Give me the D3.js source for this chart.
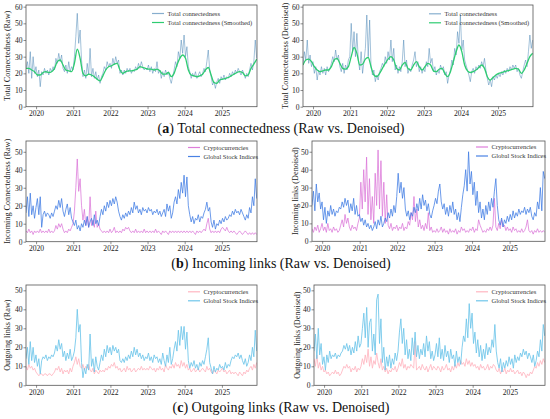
<!DOCTYPE html>
<html>
<head>
<meta charset="utf-8">
<script src="https://cdn.jsdelivr.net/npm/d3@7"></script>
<style>
  body { margin: 0; background: #fff; }
  svg { display: block; }
  .tick text { font-family: "Liberation Serif", serif; }
</style>
</head>
<body>
<svg width="550" height="419"></svg>
<script>
// Raw series are sampled every 14 days from 2019-09-24, smoothed every 28 days
var startDate = new Date(2019, 8, 24);
var rawStep = 14, smoothStep = 28;
var xStart = new Date(2019, 8, 24), xEnd = new Date(2025, 11, 12);
var yearTicks = [2020, 2021, 2022, 2023, 2024, 2025];

// (a) Total connectedness
var totalRaw = [23,27,20,33,17,30,20,
  24,18,22,12,21,19,23,20,22,19,23,21,24,22,29,26,32,27,31,23,21,25,20,27,21,24,
  22,30,42,56,38,46,28,18,22,17,26,19,35,18,23,17,21,16,19,14,18,20,24,22,27,24,
  26,23,29,25,30,26,28,20,22,19,22,20,23,21,23,20,22,21,24,22,26,23,27,24,22,23,
  22,25,21,24,20,23,21,27,20,22,17,21,18,22,19,21,17,14,18,22,27,24,33,29,40,32,
  43,30,36,24,21,17,20,18,21,17,19,21,18,20,23,21,27,34,22,18,13,15,11,15,17,14,18,
  16,19,16,18,17,20,18,21,19,22,20,23,21,19,22,20,17,20,18,22,26,22,27,40,29];
var totalRawSmooth = [23,23,22,21,19,19,20.5,21,20.5,21,23,27,28,25,22,21.5,21,26,34.5,29,
  20,18.5,19.5,19,18,16.5,15.5,18.5,22,24,24.5,25.5,26,22,20,21,21.5,21.5,22,22.5,
  24,23.5,23,22.5,22.5,22,22.5,21.5,19.5,19.5,20.5,18,20,25,29,31,29,22,19,18.5,
  18,18.5,19.5,22,23.5,19,14.5,14,16,16.5,17,17.5,18.5,19.5,20.5,21,20.5,18.5,19,23,
  25.5,28.5];
var totalDen = [25,33,28,40,26,31,24,
  27,20,24,16,22,19,24,20,23,19,24,21,23,26,30,27,34,28,31,24,21,26,20,25,22,28,
  30,50,33,45,30,44,28,22,33,20,27,35,55,30,52,24,19,22,15,19,16,21,23,26,24,30,
  26,33,28,40,27,35,22,25,20,24,21,27,40,24,28,20,23,21,25,28,33,24,27,21,24,20,
  23,21,27,24,35,26,29,21,24,19,22,20,25,22,24,19,21,14,19,22,28,25,35,31,45,38,
  55,34,40,28,25,22,19,15,21,23,20,24,22,25,23,27,24,29,22,17,13,16,12,18,16,19,17,
  20,18,21,19,22,20,23,21,24,22,25,23,25,21,23,19,17,21,25,28,24,33,43,35,40];
var totalDenSmooth = [25,28,28.5,27,24,22,21,21.5,22,22,24,28,29,26,23,22.5,24,30,35.5,32,
  25,25.5,28.5,29.5,24,19,18,20,23,26,28.5,30,28,23,22,25,26.5,23,22,25,
  27,24,22,24,26,25,21.5,21,22.5,23,20,18,21,27,33,37,33,25,21.5,20.5,
  21,22,23.5,25,23,18,16,17.5,19,20,20.5,21,21.5,22,22.5,23,22.5,20,22,26,
  30,32];

// (b) Incoming links
var inRawCrypto = [6,5,7,5,6,4,6,
  5,6,5,7,5,6,5,6,5,7,5,6,5,6,9,7,10,8,10,7,5,6,5,7,6,8,
  10,17,30,46,28,35,20,12,18,9,14,8,25,9,12,8,17,8,10,7,6,5,6,5,6,5,
  7,5,6,8,5,6,5,6,5,7,6,8,7,8,6,5,6,5,7,5,6,5,6,5,7,5,
  6,5,6,5,6,5,7,5,6,5,4,6,5,6,5,4,6,5,6,5,6,5,6,5,6,5,
  6,5,6,5,6,5,6,5,4,6,5,6,5,6,7,6,10,13,7,5,6,5,6,5,6,5,7,
  8,7,6,8,6,5,6,5,6,5,4,5,6,5,4,5,6,5,4,5,4,5,4,5,4];
var inRawStock = [16,25,14,27,15,20,13,
  19,24,15,25,8,15,17,14,16,15,13,16,14,17,20,18,23,19,24,17,14,18,21,15,19,13,
  11,9,12,7,9,6,10,8,12,9,14,8,11,13,9,15,10,12,9,14,18,15,20,17,22,19,
  23,20,24,21,25,22,17,14,12,15,13,16,14,17,15,19,16,22,18,20,16,18,15,19,17,18,
  16,19,17,18,15,17,16,18,15,17,14,16,18,14,21,17,20,13,16,22,25,21,29,24,33,27,
  37,25,36,20,15,11,14,10,13,12,15,11,14,13,16,18,22,17,19,11,8,12,7,10,9,12,10,
  13,11,14,12,13,15,14,17,15,18,16,17,15,18,16,14,12,15,13,19,16,25,20,35,24];
var inDenCrypto = [7,5,8,6,9,5,7,
  10,6,8,5,10,6,7,5,8,6,7,5,6,9,12,8,15,10,13,8,6,9,7,8,6,10,
  13,33,18,40,22,47,15,35,12,25,10,38,20,51,18,45,14,33,10,26,9,7,10,6,8,7,
  9,6,8,7,10,6,8,7,11,9,16,12,25,11,18,8,12,7,9,6,10,7,16,6,8,5,
  6,5,7,5,6,8,5,7,5,6,4,7,5,6,5,7,4,6,5,8,6,7,5,6,5,7,
  6,8,5,7,6,12,9,7,5,6,5,7,6,8,6,9,24,8,6,10,7,12,8,9,6,8,6,
  7,5,8,6,7,5,6,5,7,5,6,8,12,6,5,6,4,6,5,7,5,6,5,6,5];
var inDenStock = [20,28,17,32,22,27,18,
  22,12,19,10,17,14,20,15,18,14,17,16,19,18,22,19,24,20,23,16,21,17,24,15,20,14,
  15,11,13,9,12,8,10,7,9,6,8,11,7,12,9,14,8,10,13,11,16,13,18,14,20,16,
  25,38,27,33,24,30,18,14,17,12,16,14,19,16,21,17,24,18,26,20,23,17,21,15,13,17,
  20,24,21,28,32,22,18,21,15,19,14,20,16,22,15,18,12,16,11,19,26,31,40,28,50,32,
  39,26,33,20,28,16,22,13,18,12,20,15,22,17,24,19,28,35,20,12,9,13,8,12,10,14,11,
  15,12,17,13,16,14,18,15,17,16,19,15,18,16,19,14,12,16,14,22,18,30,17,39,35];

// (c) Outgoing links
var outRawCrypto = [10,8,11,9,10,8,9,
  7,6,5,6,6,5,6,6,5,6,6,5,6,7,9,8,10,7,9,6,8,7,8,6,9,7,
  10,12,15,11,14,10,9,11,8,10,9,11,8,7,9,6,8,7,6,8,7,8,7,9,8,10,
  9,11,10,12,9,10,8,9,7,8,9,7,10,8,9,7,8,9,7,8,9,8,10,8,9,8,
  9,8,10,9,8,9,7,9,8,10,8,9,7,11,9,8,10,9,11,9,12,10,11,9,13,10,
  12,9,11,8,9,7,8,9,7,8,9,7,8,9,8,7,10,8,9,7,6,8,7,6,8,7,8,
  9,7,8,6,7,8,6,7,6,7,6,5,7,6,5,7,6,8,7,9,10,8,11,9,12];
var outRawStock = [14,20,11,23,13,20,12,
  16,10,14,6,13,15,14,16,13,15,14,16,15,17,21,18,24,19,22,15,18,13,17,14,19,13,
  15,18,25,40,28,32,12,4,9,6,11,8,27,10,14,7,15,10,8,12,16,13,19,15,21,17,
  20,16,21,18,20,17,19,13,12,14,12,15,13,16,14,18,15,20,16,19,15,17,14,16,13,15,
  14,17,13,15,12,16,14,15,12,14,11,17,13,10,16,12,20,11,14,19,23,18,29,21,31,24,
  31,19,28,13,9,12,10,13,9,11,8,12,10,13,11,15,19,25,12,9,6,10,7,9,8,11,9,
  10,8,12,9,11,10,13,15,14,16,15,17,14,16,13,11,14,10,12,16,13,20,15,29,18];
var outDenCrypto = [14,10,16,9,12,8,10,
  7,8,6,7,5,6,7,6,8,6,7,5,6,8,10,9,11,9,10,7,9,8,10,7,9,8,
  10,14,11,16,12,19,10,15,9,13,11,17,12,9,14,8,10,7,9,6,8,7,9,8,10,7,
  9,12,10,14,9,11,8,10,9,11,10,9,23,8,9,10,8,11,9,8,10,7,9,11,8,10,
  9,8,10,9,7,10,8,9,11,8,9,7,10,8,11,9,12,10,13,11,12,10,14,11,13,10,
  12,10,11,9,10,8,11,9,10,8,9,11,8,10,9,11,10,8,7,9,6,8,7,9,6,8,7,
  9,7,8,6,7,8,6,7,5,7,6,4,6,5,7,6,8,10,9,12,10,13,11,14,12];
var outDenStock = [18,27,14,30,16,22,11,
  15,8,16,12,18,14,16,15,17,14,16,15,17,18,21,19,22,18,21,16,20,17,23,18,26,20,
  22,30,38,25,41,20,33,35,18,27,16,45,48,22,35,12,20,8,15,10,16,9,14,11,17,13,
  18,28,35,22,30,16,24,14,19,13,25,16,28,15,21,14,19,16,22,15,26,18,23,14,18,13,
  16,22,15,25,14,19,13,21,15,18,12,19,14,16,10,18,12,15,11,20,26,23,35,25,43,30,
  38,22,28,17,24,15,21,13,19,14,22,16,20,17,24,20,32,18,12,9,14,7,12,9,13,10,15,
  11,14,9,16,12,15,13,17,15,19,16,18,14,17,15,12,16,10,13,18,15,24,18,32,26];

var svg = d3.select("svg");

function toPoints(values, step) {
  return values.map(function(v, i) { return {date: d3.timeDay.offset(startDate, i * step), value: v}; });
}

var panels = [
  {left: 26, right: 257, top: 5, bottom: 106.7, yMax: 61, ticks: [0,10,20,30,40,50,60], label: "Total Connectedness (Raw)", labelX: 7.5,
   series: [
     {name: "Total connectedness", values: totalRaw, step: rawStep, color: "#4682b4", opacity: 0.55, width: 0.9},
     {name: "Total connectedness (Smoothed)", values: totalRawSmooth, step: smoothStep, color: "#2ecc71", opacity: 1, width: 1.3, curve: true}
   ], legendX: 152, legendY: 13.5},
  {left: 303, right: 533, top: 5, bottom: 106.7, yMax: 61, ticks: [0,10,20,30,40,50,60], label: "Total Connectedness (Denoised)", labelX: 285,
   series: [
     {name: "Total connectedness", values: totalDen, step: rawStep, color: "#4682b4", opacity: 0.55, width: 0.9},
     {name: "Total connectedness (Smoothed)", values: totalDenSmooth, step: smoothStep, color: "#2ecc71", opacity: 1, width: 1.3, curve: true}
   ], legendX: 429, legendY: 13.8},
  {left: 26, right: 257, top: 141, bottom: 241.7, yMax: 56, ticks: [0,10,20,30,40,50], label: "Incoming Connectedness (Raw)", labelX: 7.5,
   series: [
     {name: "Cryptocurrencies", values: inRawCrypto, step: rawStep, color: "#da70d6", opacity: 0.8, width: 0.9},
     {name: "Global Stock Indices", values: inRawStock, step: rawStep, color: "#3f7be3", opacity: 0.85, width: 0.9}
   ], legendX: 188, legendY: 147.5},
  {left: 312, right: 545, top: 141, bottom: 241.3, yMax: 56, ticks: [0,10,20,30,40,50], label: "Incoming links (Denoised)", labelX: 295.5,
   series: [
     {name: "Cryptocurrencies", values: inDenCrypto, step: rawStep, color: "#da70d6", opacity: 0.8, width: 0.9},
     {name: "Global Stock Indices", values: inDenStock, step: rawStep, color: "#3f7be3", opacity: 0.85, width: 0.9}
   ], legendX: 476, legendY: 147},
  {left: 26, right: 257, top: 285, bottom: 385.3, yMax: 52.8, ticks: [0,10,20,30,40,50], label: "Outgoing links (Raw)", labelX: 7.5,
   series: [
     {name: "Cryptocurrencies", values: outRawCrypto, step: rawStep, color: "#ffb6c1", opacity: 0.95, width: 0.9},
     {name: "Global Stock Indices", values: outRawStock, step: rawStep, color: "#6fc6ea", opacity: 0.95, width: 0.9}
   ], legendX: 188, legendY: 291.8},
  {left: 314, right: 545, top: 285, bottom: 385.3, yMax: 52.8, ticks: [0,10,20,30,40,50], label: "Outgoing links (Denoised)", labelX: 297,
   series: [
     {name: "Cryptocurrencies", values: outDenCrypto, step: rawStep, color: "#ffb6c1", opacity: 0.95, width: 0.9},
     {name: "Global Stock Indices", values: outDenStock, step: rawStep, color: "#6fc6ea", opacity: 0.95, width: 0.9}
   ], legendX: 476, legendY: 291.8}
];

panels.forEach(function(p, k) {
  var x = d3.scaleTime().domain([xStart, xEnd]).range([p.left, p.right]);
  var y = d3.scaleLinear().domain([0, p.yMax]).range([p.bottom, p.top]);
  var g = svg.append("g");

  g.append("clipPath").attr("id", "clip" + k)
    .append("rect").attr("x", p.left).attr("y", p.top)
    .attr("width", p.right - p.left).attr("height", p.bottom - p.top);

  var lines = g.append("g").attr("clip-path", "url(#clip" + k + ")");
  p.series.forEach(function(s) {
    var line = d3.line()
      .x(function(d) { return x(d.date); })
      .y(function(d) { return y(d.value); });
    if (s.curve) line.curve(d3.curveMonotoneX);
    lines.append("path")
      .datum(toPoints(s.values, s.step))
      .attr("fill", "none")
      .attr("stroke", s.color)
      .attr("stroke-opacity", s.opacity)
      .attr("stroke-width", s.width)
      .attr("stroke-linejoin", "round")
      .attr("d", line);
  });

  // frame
  g.append("rect")
    .attr("x", p.left).attr("y", p.top)
    .attr("width", p.right - p.left).attr("height", p.bottom - p.top)
    .attr("fill", "none").attr("stroke", "#555").attr("stroke-width", 0.8);

  var xAxis = g.append("g")
    .attr("transform", "translate(0," + p.bottom + ")")
    .call(d3.axisBottom(x)
      .tickValues(yearTicks.map(function(yr) { return new Date(yr, 0, 1); }))
      .tickFormat(d3.timeFormat("%Y"))
      .tickSize(2.5).tickPadding(1.5));
  xAxis.select(".domain").remove();
  xAxis.selectAll("line").attr("stroke", "#444").attr("stroke-width", 0.6);
  xAxis.selectAll("text").attr("font-size", 7.6).attr("fill", "#222");

  var yAxis = g.append("g")
    .attr("transform", "translate(" + p.left + ",0)")
    .call(d3.axisLeft(y).tickValues(p.ticks).tickSize(2.5).tickPadding(1));
  yAxis.select(".domain").remove();
  yAxis.selectAll("line").attr("stroke", "#444").attr("stroke-width", 0.6);
  yAxis.selectAll("text").attr("font-size", 7.6).attr("fill", "#222");

  g.append("text")
    .attr("transform", "translate(" + p.labelX + "," + ((p.top + p.bottom) / 2) + ") rotate(-90)")
    .attr("text-anchor", "middle")
    .attr("dy", "0.35em")
    .attr("font-family", "Liberation Serif, serif")
    .attr("font-size", 8.2)
    .attr("fill", "#222")
    .text(p.label);

  // legend
  p.series.forEach(function(s, i) {
    var ly = p.legendY + i * 9;
    g.append("line")
      .attr("x1", p.legendX).attr("x2", p.legendX + 12)
      .attr("y1", ly).attr("y2", ly)
      .attr("stroke", s.color)
      .attr("stroke-opacity", s.curve ? 1 : Math.min(1, s.opacity + 0.1))
      .attr("stroke-width", 1.2);
    g.append("text")
      .attr("x", p.legendX + 15.5).attr("y", ly)
      .attr("dy", "0.35em")
      .attr("font-family", "Liberation Serif, serif")
      .attr("font-size", 6.5)
      .attr("fill", "#333")
      .text(s.name);
  });
});

// captions
var captions = [
  {letter: "a", text: " Total connectedness (Raw vs. Denoised)", y: 128},
  {letter: "b", text: " Incoming links (Raw vs. Denoised)", y: 263},
  {letter: "c", text: " Outgoing links (Raw vs. Denoised)", y: 407}
];
captions.forEach(function(c) {
  var t = svg.append("text")
    .attr("x", 281).attr("y", c.y)
    .attr("dy", "0.35em")
    .attr("text-anchor", "middle")
    .attr("font-family", "Liberation Serif, serif")
    .attr("font-size", 14)
    .attr("fill", "#111");
  t.append("tspan").text("(");
  t.append("tspan").attr("font-weight", "bold").text(c.letter);
  t.append("tspan").text(")" + c.text);
});
</script>
</body>
</html>
